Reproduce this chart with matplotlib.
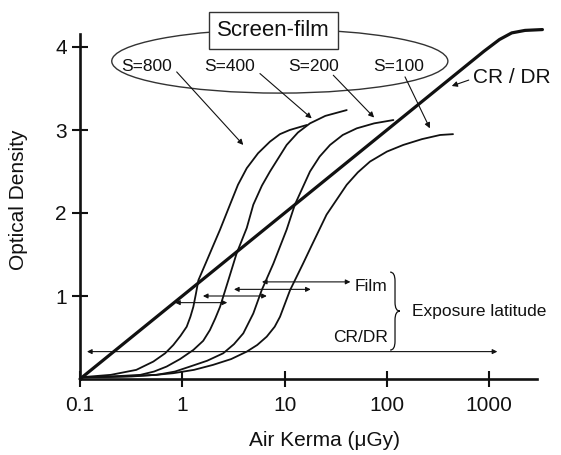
import numpy as np
import matplotlib
matplotlib.use("Agg")
import matplotlib.pyplot as plt
from matplotlib.patches import Ellipse, PathPatch
from matplotlib.path import Path
from matplotlib.ticker import FixedLocator, NullLocator

plt.rcParams['font.family'] = ['Liberation Sans', 'DejaVu Sans']

# characteristic curves: air kerma (uGy) vs optical density
dose_800 = [0.1, 0.2, 0.355, 0.521, 0.68, 0.817, 0.96, 1.104, 1.2, 1.282, 1.36, 1.436, 1.7, 2.009,
            2.339, 2.924, 3.5, 4.266, 5.5, 7.194, 9.0, 11.22, 16.44]
od_800 = [0.02, 0.05, 0.11, 0.21, 0.31, 0.41, 0.52, 0.63, 0.75, 0.87, 1.03, 1.19, 1.40, 1.61,
          1.80, 2.10, 2.34, 2.54, 2.72, 2.86, 2.95, 3.00, 3.06]

dose_400 = [0.1, 0.2, 0.389, 0.53, 0.703, 0.95, 1.282, 1.6, 1.862, 2.1, 2.339, 2.818, 3.388, 4.266,
            4.943, 6.0, 7.194, 10.47, 13.5, 17.70, 25.0, 40.46]
od_400 = [0.02, 0.03, 0.05, 0.09, 0.15, 0.24, 0.35, 0.46, 0.59, 0.73, 0.87, 1.19, 1.51, 1.82,
          2.10, 2.33, 2.50, 2.82, 2.97, 3.08, 3.17, 3.24]

dose_200 = [0.1, 0.251, 0.562, 0.85, 1.189, 1.75, 2.512, 3.2, 3.945, 4.943, 5.970, 7.762, 10.47,
            12.59, 17.70, 22.0, 27.80, 37.0, 50.70, 75.0, 115.6]
od_200 = [0.02, 0.03, 0.05, 0.09, 0.15, 0.22, 0.31, 0.42, 0.55, 0.79, 1.07, 1.39, 1.80,
          2.10, 2.50, 2.68, 2.82, 2.94, 3.02, 3.08, 3.12]

dose_100 = [0.1, 0.316, 0.55, 0.817, 1.3, 1.995, 3.0, 4.266, 5.4, 6.683, 8.0, 9.016, 11.30, 15.14,
            18.41, 25.70, 40.46, 52.0, 68.39, 100, 144.5, 220, 331.1, 442.6]
od_100 = [0.02, 0.03, 0.05, 0.07, 0.11, 0.17, 0.24, 0.33, 0.41, 0.51, 0.63, 0.75, 1.07, 1.39,
          1.61, 1.98, 2.34, 2.49, 2.62, 2.74, 2.82, 2.89, 2.94, 2.95]

dose_cr = [0.1, 1, 10, 100, 891, 1259, 1660, 2239, 3311]
od_cr = [0.0, 1.0, 2.0, 3.0, 3.95, 4.09, 4.17, 4.20, 4.21]

# speed labels and where their arrows start / point
speed_labels = ['S=800', 'S=400', 'S=200', 'S=100']
label_x = [0.449, 2.92, 19.0, 128.8]
label_y = 3.76
arrow_from = [(0.881, 3.70), (5.74, 3.68), (29.9, 3.66), (150.3, 3.64)]
arrow_to = [(3.945, 2.82), (18.4, 3.14), (75.0, 3.15), (263, 3.02)]

# film latitude arrows (left dose, right dose, OD) and the CR/DR one
film_lat = [(0.85, 2.75, 0.92), (1.59, 6.7, 1.00), (3.2, 18, 1.08), (6.0, 44, 1.17)]
crdr_lat = (0.117, 1200, 0.33)

xticks = [0.1, 1, 10, 100, 1000]
xticklabels = ['0.1', '1', '10', '100', '1000']
yticks = [1, 2, 3, 4]

ink = '#111111'

fig = plt.figure(figsize=(5.61, 4.55), dpi=100)
ax = fig.add_axes([80 / 561, 76 / 455, 463.6 / 561, 352.75 / 455])
ax.set_xscale('log')
ax.set_xlim(0.1, 3400)
ax.set_ylim(0, 4.25)

for d, o in [(dose_800, od_800), (dose_400, od_400), (dose_200, od_200), (dose_100, od_100)]:
    ax.plot(d, o, color=ink, lw=1.3, solid_capstyle='round', solid_joinstyle='round')
ax.plot(dose_cr, od_cr, color=ink, lw=2.3, solid_capstyle='round', solid_joinstyle='round',
        clip_on=False)

# axes
for s in ['top', 'right']:
    ax.spines[s].set_visible(False)
ax.spines['left'].set_bounds(0, 4.16)
ax.spines['bottom'].set_bounds(0.1, 2950)
for s in ['left', 'bottom']:
    ax.spines[s].set_linewidth(1.9)
    ax.spines[s].set_color(ink)
ax.xaxis.set_major_locator(FixedLocator(xticks))
ax.xaxis.set_minor_locator(NullLocator())
ax.set_xticklabels(xticklabels)
ax.set_yticks(yticks)
ax.set_yticklabels([str(v) for v in yticks])
ax.tick_params(direction='inout', length=11, width=1.5, labelsize=15, colors=ink)
ax.tick_params(axis='x', pad=7)
ax.tick_params(axis='y', pad=4)

ax.set_xlabel('Air Kerma (\u03bcGy)', fontsize=15, color=ink)
ax.xaxis.set_label_coords(0.528, -0.148)
ax.set_ylabel('Optical Density', fontsize=15, color=ink)
ax.yaxis.set_label_coords(-0.112, 0.507)

# screen-film group
ax.add_patch(Ellipse((0.431, 0.901), 0.725, 0.181, transform=ax.transAxes,
                     fill=False, lw=1.0, edgecolor='#333333', clip_on=False))
ax.text(0.418, 0.989, 'Screen-film', transform=ax.transAxes, ha='center', va='center',
        fontsize=16, color=ink, zorder=5,
        bbox=dict(boxstyle='square,pad=0.36', fc='white', ec='#333333', lw=1.0))

for lab, lx, p0, p1 in zip(speed_labels, label_x, arrow_from, arrow_to):
    ax.text(lx, label_y, lab, ha='center', va='center', fontsize=12.5, color=ink)
    ax.annotate('', xy=p1, xytext=p0,
                arrowprops=dict(arrowstyle='-|>', lw=0.8, color=ink, mutation_scale=8,
                                shrinkA=0, shrinkB=0))

# CR / DR label
ax.annotate('CR / DR', xy=(430, 3.53), xytext=(692, 3.63), ha='left', va='center',
            fontsize=15, color=ink, annotation_clip=False,
            arrowprops=dict(arrowstyle='-|>', lw=0.8, color=ink, mutation_scale=8,
                            shrinkA=1, shrinkB=0, relpos=(0, 0.45)))

# latitude arrows
for x0, x1, y in film_lat + [crdr_lat]:
    ax.annotate('', xy=(x1, y), xytext=(x0, y),
                arrowprops=dict(arrowstyle='<|-|>', lw=0.8, color=ink, mutation_scale=7,
                                shrinkA=0, shrinkB=0))

ax.text(48.8, 1.11, 'Film', ha='left', va='center', fontsize=12.5, color=ink)
ax.text(102, 0.506, 'CR/DR', ha='right', va='center', fontsize=12.5, color=ink)
ax.text(176, 0.81, 'Exposure latitude', ha='left', va='center', fontsize=12.5, color=ink)

# curly brace joining the two latitude labels
bx0, bx1 = 0.669, 0.690
bm = (bx0 + bx1) / 2
yt, yb = 0.303, 0.082
ym = (yt + yb) / 2
r = 0.025
verts = [(bx0, yt), (bm, yt), (bm, yt - r),
         (bm, ym + r),
         (bm, ym), (bx1, ym),
         (bm, ym), (bm, ym - r),
         (bm, yb + r),
         (bm, yb), (bx0, yb)]
codes = [Path.MOVETO, Path.CURVE3, Path.CURVE3,
         Path.LINETO,
         Path.CURVE3, Path.CURVE3,
         Path.CURVE3, Path.CURVE3,
         Path.LINETO,
         Path.CURVE3, Path.CURVE3]
ax.add_patch(PathPatch(Path(verts, codes), transform=ax.transAxes, fill=False,
                       lw=0.9, edgecolor=ink, clip_on=False))

fig.savefig('out.png', dpi=100)
